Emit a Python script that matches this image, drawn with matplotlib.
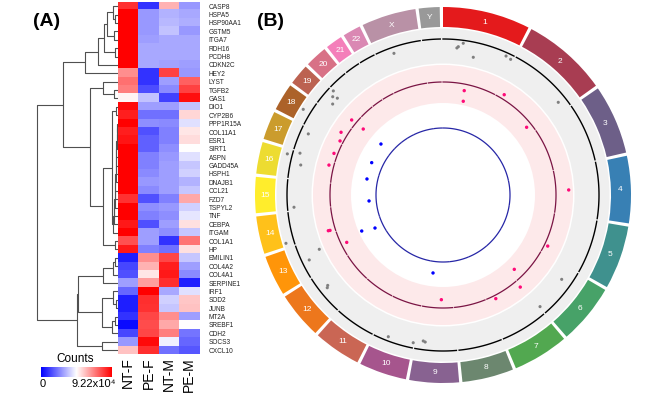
import numpy as np
import matplotlib
matplotlib.use("Agg")
import matplotlib.pyplot as plt
from matplotlib.colors import LinearSegmentedColormap

plt.rcParams['font.family'] = ['Liberation Sans', 'DejaVu Sans']

# ---------------- data: panel A ----------------
genes = ['CASP8', 'HSPA5', 'HSP90AA1', 'GSTM5', 'ITGA7', 'RDH16', 'PCDH8', 'CDKN2C',
         'HEY2', 'LYST', 'TGFB2', 'GAS1', 'DIO1', 'CYP2B6', 'PPP1R15A', 'COL11A1',
         'ESR1', 'SIRT1', 'ASPN', 'GADD45A', 'HSPH1', 'DNAJB1', 'CCL21', 'FZD7',
         'TSPYL2', 'TNF', 'CEBPA', 'ITGAM', 'COL1A1', 'HP', 'EMILIN1', 'COL4A2',
         'COL4A1', 'SERPINE1', 'IRF1', 'SOD2', 'JUNB', 'MT2A', 'SREBF1', 'CDH2',
         'SOCS3', 'CXCL10']
samples = ['NT-F', 'PE-F', 'NT-M', 'PE-M']

# scaled counts (0 = 0, 1 = 9.22x10^4)
counts = [
    [0.90, 0.10, 0.65, 0.30],
    [1.00, 0.30, 0.35, 0.33],
    [1.00, 0.30, 0.36, 0.34],
    [1.00, 0.30, 0.38, 0.30],
    [1.00, 0.31, 0.33, 0.33],
    [1.00, 0.33, 0.33, 0.33],
    [1.00, 0.33, 0.33, 0.33],
    [1.00, 0.33, 0.32, 0.31],
    [0.72, 0.10, 0.87, 0.30],
    [0.78, 0.10, 0.31, 0.81],
    [0.75, 0.15, 0.27, 0.87],
    [0.52, 0.38, 0.13, 0.97],
    [0.98, 0.31, 0.31, 0.38],
    [0.94, 0.22, 0.22, 0.58],
    [1.00, 0.28, 0.27, 0.44],
    [0.94, 0.16, 0.25, 0.55],
    [0.96, 0.19, 0.25, 0.57],
    [1.00, 0.19, 0.28, 0.50],
    [1.00, 0.25, 0.30, 0.44],
    [1.00, 0.25, 0.31, 0.39],
    [1.00, 0.27, 0.31, 0.41],
    [1.00, 0.30, 0.31, 0.35],
    [1.00, 0.27, 0.31, 0.39],
    [0.90, 0.16, 0.25, 0.67],
    [1.00, 0.28, 0.30, 0.41],
    [1.00, 0.25, 0.28, 0.45],
    [0.95, 0.16, 0.31, 0.56],
    [1.00, 0.31, 0.28, 0.39],
    [0.84, 0.31, 0.10, 0.77],
    [0.95, 0.25, 0.22, 0.56],
    [0.06, 0.72, 0.86, 0.39],
    [0.14, 0.65, 0.94, 0.31],
    [0.16, 0.55, 0.95, 0.27],
    [0.31, 0.69, 0.91, 0.06],
    [0.20, 1.00, 0.33, 0.44],
    [0.06, 0.91, 0.41, 0.61],
    [0.06, 0.90, 0.39, 0.62],
    [0.10, 0.86, 0.72, 0.31],
    [0.02, 0.85, 0.67, 0.50],
    [0.14, 0.86, 0.75, 0.23],
    [0.30, 0.98, 0.47, 0.20],
    [0.62, 0.91, 0.22, 0.17],
]

# row dendrogram: (left, right, height); leaves are row indices
chain_heights = [1, 1.5, 1.5, 2, 2, 2.5, 2.5, 3, 3, 3.5, 4, 4.5, 5]
chain = 14
for leaf, h in zip(range(15, 28), chain_heights):
    chain = (chain, leaf, h)
node_A = (((((0, (1, 2, 3), 5), (3, 4, 4), 11), (5, 6, 3), 14), 7, 20), 8, 33)
node_B = ((9, (10, 11, 4), 15), (((12, 13, 2), chain, 6), (28, 29, 3), 15), 28)
node_C = (((((30, 31, 3), 32, 5), 33, 15),
           ((34, (35, 36, 2), 5), ((37, 38, 3), 39, 6), 16), 40),
          (40, 41, 16), 41)
tree = ((node_A, node_B, 55), node_C, 81)

# ---------------- data: panel B ----------------
chrom_names = [str(i) for i in range(1, 23)] + ['X', 'Y']
chrom_len_mb = [249.3, 243.2, 198.0, 191.2, 180.9, 171.1, 159.1, 146.4, 141.2, 135.5,
                135.0, 133.9, 115.2, 107.3, 102.5, 90.4, 81.2, 78.1, 59.1, 63.0,
                48.1, 51.3, 155.3, 59.4]

gray_theta = [5.9, 7.6, 5.4, 340.9, 12.4, 24.4, 26.5, 51.2, 125.4, 139.0, 201.1, 191.4,
              187.7, 186.9, 313.5, 312.5, 311.7, 309.5, 301.5, 294.4, 284.8, 286.3,
              281.9, 265.3, 252.9, 246.3, 244.1, 231.3, 231.9]
gray_val = [-0.69, -0.29, -0.83, -0.61, -1.5, -0.34, -0.44, -0.81, -1.04, -0.81, -0.41,
            -0.53, -0.87, -0.79, -0.48, -1.27, -0.83, -1.3, 0.79, -0.81, 0.5, -0.7,
            -1.06, -0.65, 0.83, -2.09, -0.73, -0.77, -0.95]
pink_theta = [11.5, 31.4, 12.2, 309.4, 309.6, 51.0, 301.6, 297.7, 87.7, 243.8, 116.0,
              136.2, 140.0, 153.0, 180.9, 290.9, 284.7, 252.7, 252.6]
pink_val = [-0.65, 0.45, -1.71, 0.52, -0.95, -0.54, 0.67, 0.33, 1.28, -0.57, 0.35,
            -1.0, 0.72, 0.33, -0.83, 0.37, 0.49, 0.71, 0.54]
blue_theta = [309.4, 294.4, 281.9, 265.4, 246.1, 244.1, 187.3]
blue_val = [1.33, 1.13, 1.07, 0.72, 2.19, 0.86, 1.16]

# ---------------- figure ----------------
W, H = 666, 403
fig = plt.figure(figsize=(W / 100, H / 100), dpi=100)


def rect(x0, y0, x1, y1):
    # pixel box (top-left origin) -> figure fraction
    return [x0 / W, 1 - y1 / H, (x1 - x0) / W, (y1 - y0) / H]


hm_top, hm_bot = 2, 354.3
cmap_hm = LinearSegmentedColormap.from_list('bwr_', ['#0000ff', '#ffffff', '#ff0000'])

ax_hm = fig.add_axes(rect(118, hm_top, 199.5, hm_bot))
ax_hm.imshow(np.array(counts), cmap=cmap_hm, vmin=0, vmax=1, aspect='auto',
             interpolation='nearest')
ax_hm.yaxis.tick_right()
ax_hm.set_yticks(range(len(genes)))
ax_hm.set_yticklabels(genes)
ax_hm.set_xticks(range(len(samples)))
ax_hm.set_xticklabels(samples, rotation=90)
ax_hm.tick_params(axis='y', length=0, pad=6.5, labelsize=4.7, labelcolor='#222222')
ax_hm.tick_params(axis='x', length=0, pad=2, labelsize=10)
for s in ax_hm.spines.values():
    s.set_visible(False)

# dendrogram
ax_d = fig.add_axes(rect(30, hm_top, 118, hm_bot))
ax_d.set_xlim(88, 0)
ax_d.set_ylim(len(genes), 0)
ax_d.axis('off')


def draw_tree(node):
    if isinstance(node, int):
        return node + 0.5, 0
    left, right, h = node
    yl, hl = draw_tree(left)
    yr, hr = draw_tree(right)
    ax_d.plot([hl, h, h, hr], [yl, yl, yr, yr], color='#505050', lw=0.8,
              solid_capstyle='butt')
    return (yl + yr) / 2, h


draw_tree(tree)

# colour key
ax_cb = fig.add_axes(rect(41, 367.3, 112, 376.7))
ax_cb.imshow(np.linspace(0, 1, 256)[None, :], cmap=cmap_hm, aspect='auto')
ax_cb.axis('off')
fig.text(75 / W, 1 - 359 / H, 'Counts', ha='center', va='center', fontsize=8.5)
fig.text(43 / W, 1 - 384 / H, '0', ha='center', va='center', fontsize=8)
fig.text(116 / W, 1 - 384 / H, '9.22x10⁴', ha='right', va='center', fontsize=8)

fig.text(47 / W, 1 - 21 / H, '(A)', ha='center', va='center', fontsize=14, weight='bold')
fig.text(271 / W, 1 - 21 / H, '(B)', ha='center', va='center', fontsize=14, weight='bold')

# ---------------- circos ----------------
cx, cy, R = 443, 195, 190
ax_c = fig.add_axes(rect(cx - R, cy - R, cx + R, cy + R), projection='polar')
ax_c.set_theta_zero_location('N')
ax_c.set_theta_direction(-1)
ax_c.set_ylim(0, R)
ax_c.set_axis_off()

gap = 1.0
span = 360 - gap * len(chrom_len_mb)
widths = np.array(chrom_len_mb) / sum(chrom_len_mb) * span
starts = np.concatenate([[0], np.cumsum(widths + gap)[:-1]])

set1 = ['#E41A1C', '#377EB8', '#4DAF4A', '#984EA3', '#FF7F00', '#FFFF33',
        '#A65628', '#F781BF', '#999999']
chrom_cols = LinearSegmentedColormap.from_list('set1', set1)(np.linspace(0, 1, len(chrom_names)))

# track backgrounds
ax_c.bar(0, 35, width=2 * np.pi, bottom=131.5, color='#efefef', edgecolor='none')
ax_c.bar(0, 38, width=2 * np.pi, bottom=92, color='#fde9ea', edgecolor='none')

track_r = {'gray': 156, 'pink': 113, 'blue': 67}
for st, wd in zip(starts, widths):
    th = np.deg2rad(np.linspace(st, st + wd, 60))
    ax_c.plot(th, np.full_like(th, track_r['gray']), color='black', lw=1.0)
    ax_c.plot(th, np.full_like(th, track_r['pink']), color='#7a1444', lw=0.9)
    ax_c.plot(th, np.full_like(th, track_r['blue']), color='#2626a6', lw=0.9)

scale = 10
ax_c.scatter(np.deg2rad(gray_theta), track_r['gray'] + scale * np.array(gray_val),
             s=5, color='#7f7f7f', edgecolors='none', zorder=3)
ax_c.scatter(np.deg2rad(pink_theta), track_r['pink'] + scale * np.array(pink_val),
             s=6, color='#ff0a78', edgecolors='none', zorder=3)
ax_c.scatter(np.deg2rad(blue_theta), track_r['blue'] + scale * np.array(blue_val),
             s=6, color='#0000ff', edgecolors='none', zorder=3)

# chromosome ideogram ring
for name, st, wd, col in zip(chrom_names, starts, widths, chrom_cols):
    mid = np.deg2rad(st + wd / 2)
    ax_c.bar(mid, 20, width=np.deg2rad(wd), bottom=168, color=col, edgecolor='none')
    ax_c.text(mid, 177.5, name, color='white', fontsize=6, ha='center', va='center')

fig.savefig('out.png', dpi=100)
